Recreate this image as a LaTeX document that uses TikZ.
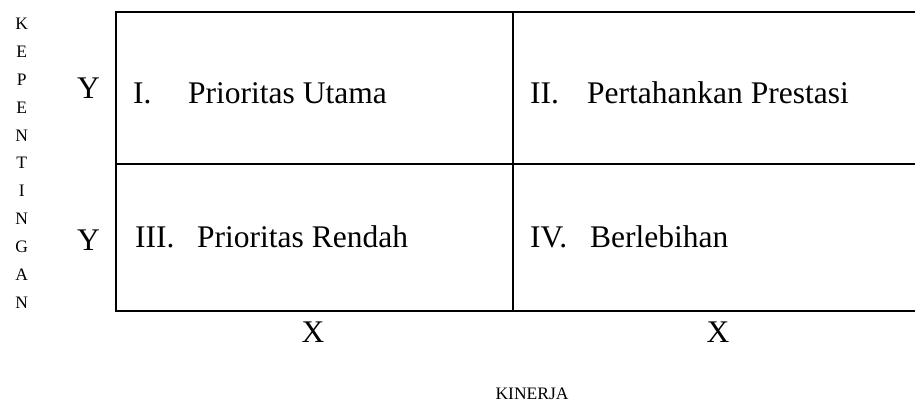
\documentclass[tikz,border=0pt]{standalone}
\usepackage{fontspec}
\setmainfont{Liberation Serif}
\tikzset{
  big/.style={inner sep=0pt, font=\fontsize{31.5}{36}\selectfont},
  small/.style={inner sep=0pt, font=\fontsize{17.5}{20}\selectfont},
  gridline/.style={line width=2pt}
}
\begin{document}
\begin{tikzpicture}[x=1pt,y=-1pt]
\useasboundingbox (0,0) rectangle (915,406);
\clip (0,0) rectangle (915,406);
% quadrant frame (right side runs past the edge)
\coordinate (tl) at (115.5,12);
\coordinate (br) at (925,311);
\draw[gridline] (tl) rectangle (br);
\coordinate (vt) at (513,12);
\coordinate (vb) at (513,311);
\coordinate (hl) at (115.5,164.5);
\coordinate (hr) at (925,164.5);
\draw[gridline] (vt) -- (vb);
\draw[gridline] (hl) -- (hr);
% quadrant texts
\node[big, anchor=base west] (n1) at (133,104) {I.};
\node[big, anchor=base west] (t1) at (188,104) {Prioritas Utama};
\node[big, anchor=base west] (n2) at (530,104) {II.};
\node[big, anchor=base west] (t2) at (587,104) {Pertahankan Prestasi};
\node[big, anchor=base west] (n3) at (135,247) {III.};
\node[big, anchor=base west] (t3) at (197,247) {Prioritas Rendah};
\node[big, anchor=base west] (n4) at (530,247) {IV.};
\node[big, anchor=base west] (t4) at (590,247) {Berlebihan};
% axis labels
\node[big, anchor=base] (y1) at (88.5,99) {Y};
\node[big, anchor=base] (y2) at (88.5,250) {Y};
\node[big, anchor=base] (x1) at (313,342) {X};
\node[big, anchor=base] (x2) at (718,342) {X};
\node[small, anchor=base] (kinerja) at (532,399) {KINERJA};
\foreach \l [count=\i from 0] in {K,E,P,E,N,T,I,N,G,A,N}
  \node[small, anchor=base] (kep\i) at (21.7,30+27.8*\i) {\l};
\end{tikzpicture}
\end{document}
